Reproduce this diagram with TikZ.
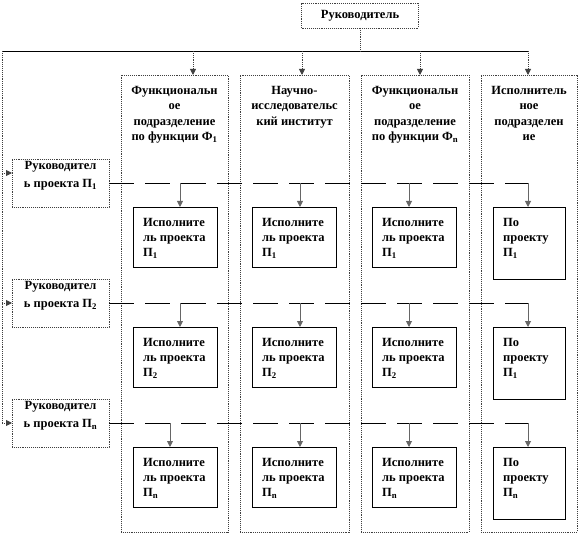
\documentclass[tikz,border=0pt]{standalone}
\usepackage{fontspec}
\setmainfont{Liberation Serif}
\usetikzlibrary{arrows.meta,positioning}
\newcommand{\prj}[1]{П\textsubscript{#1}}
\newcommand{\fnc}[1]{Ф\textsubscript{#1}}

\begin{document}
\begin{tikzpicture}[x=1pt,y=-1pt,
  dotbox/.style={draw=black!75,densely dotted,line width=0.9pt,inner sep=0pt,outer sep=0pt},
  exbox/.style={draw=black,line width=0.9pt,inner sep=0pt,outer sep=0pt,anchor=north west},
  txt/.style={font=\bfseries\fontsize{12.5}{15}\selectfont,inner sep=0pt},
  hdtxt/.style={font=\bfseries\fontsize{12.5}{15.5}\selectfont,inner sep=0pt,align=center},
  mgtxt/.style={font=\bfseries\fontsize{12.5}{18}\selectfont,inner sep=0pt,align=center},
  tip/.style={-{Triangle[length=6pt,width=6pt]}},
  busarrow/.style={tip,draw=black!75,densely dotted,line width=0.9pt},
  dropline/.style={tip,draw=black!60,line width=0.9pt},
  link/.style={line width=0.8pt,dash pattern=on 25pt off 11pt}]
\useasboundingbox (0,0) rectangle (580,534);
\node[dotbox,txt,minimum width=117pt,minimum height=25pt] (head) at (360,15.5) {Руководитель};
\coordinate (busL) at (2,51);
\coordinate (busR) at (528,51);
\draw[line width=0.8pt] (busL) -- (busR);
\draw[dotbox] (head.south) -- (head.south |- busL);
\foreach \c/\x/\w/\t in {1/121/107/193, 2/240/109/302, 3/361/108/420, 4/481/96/528} {
  \node[dotbox,anchor=north west,minimum width=\w pt,minimum height=457pt] (col\c) at (\x,75) {};
  \coordinate (tap\c) at (\t,51);
  \draw[busarrow] (tap\c) -- (tap\c |- col\c.north);
}
\node[hdtxt,below=11pt of col1.north] (hd1) {Функциональн\\ое\\подразделение\\по функции \fnc{1}};
\node[hdtxt,below=11pt of col2.north] (hd2) {Научно-\\исследовательс\\кий институт};
\node[hdtxt,below=11pt of col3.north] (hd3) {Функциональн\\ое\\подразделение\\по функции \fnc{n}};
\node[hdtxt,below=11pt of col4.north] (hd4) {Исполнитель\\ное\\подразделен\\ие};
\foreach \r/\y/\s/\a/\q in {1/183/1/180/1, 2/303/2/180/1, 3/423/n/170/n} {
  \node[dotbox,anchor=north west,minimum width=97pt,minimum height=48pt] (m\r) at (12,\y-24) {};
  \node[mgtxt,below=2pt of m\r.north] (mt\r) {Руководител\\ь проекта \prj{\s}};
  \coordinate (end\r) at (528,\y);
  \draw[link] (m\r.east) -- (end\r);
  \foreach \c/\x/\d in {1/133/\a, 2/252/300, 3/372/409} {
    \node[exbox,minimum width=84pt,minimum height=60pt] (e\r\c) at (\x,\y+24) {};
    \node[txt,align=left,anchor=north west] (et\r\c) at ([xshift=10pt,yshift=-11pt]e\r\c.north west) {Исполните\\ль проекта\\\prj{\s}};
    \coordinate (drop\r\c) at (\d,\y);
    \draw[dropline] (drop\r\c) -- (drop\r\c |- e\r\c.north);
  }
  \node[exbox,minimum width=72pt,minimum height=72pt] (e\r4) at (493,\y+24) {};
  \node[txt,align=left,anchor=north west] (et\r4) at ([xshift=10pt,yshift=-11pt]e\r4.north west) {По\\проекту\\\prj{\q}};
  \draw[dropline] (end\r) -- (end\r |- e\r4.north);
}
\coordinate (a1) at ([yshift=10pt]m1.west);
\draw[busarrow] (busL |- a1) -- (a1);
\draw[busarrow] (busL |- m2.west) -- (m2.west);
\draw[busarrow] (busL) -- (busL |- m3.west) -- (m3.west);
\end{tikzpicture}
\end{document}
